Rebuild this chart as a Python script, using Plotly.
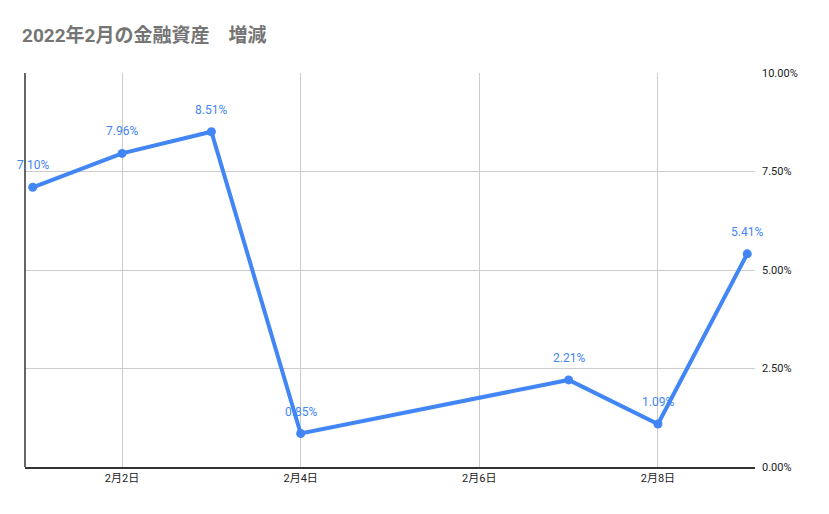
import plotly.graph_objects as go

# Data
dates = ["2022-02-01", "2022-02-02", "2022-02-03", "2022-02-04",
         "2022-02-07", "2022-02-08", "2022-02-09"]
values = [0.0710, 0.0796, 0.0851, 0.0085, 0.0221, 0.0109, 0.0541]
labels = ["7.10%", "7.96%", "8.51%", "0.85%", "2.21%", "1.09%", "5.41%"]

tick_dates = ["2022-02-02", "2022-02-04", "2022-02-06", "2022-02-08"]
tick_text = ["2月2日", "2月4日", "2月6日", "2月8日"]

title = "2022年2月の金融資産　増減"

FONT = "Roboto, 'Noto Sans CJK JP', Arial, sans-serif"
BLUE = "#4285F4"

fig = go.Figure()
fig.add_trace(go.Scatter(
    x=dates, y=values, mode="lines+markers",
    line=dict(color=BLUE, width=4),
    marker=dict(color=BLUE, size=9),
    cliponaxis=False, showlegend=False,
))

# data labels above each point
for d, v, t in zip(dates, values, labels):
    fig.add_annotation(x=d, y=v, text=t, showarrow=False,
                       yshift=22, font=dict(color=BLUE, size=12, family=FONT))

# left border line of the plot area
fig.add_shape(type="line", xref="paper", yref="paper",
              x0=0, x1=0, y0=0, y1=1,
              line=dict(color="#333333", width=1.5))

fig.update_layout(
    width=829, height=514,
    margin=dict(l=17, r=82, t=65, b=55),
    paper_bgcolor="white", plot_bgcolor="white",
    title=dict(text="<b>" + title + "</b>", x=0.0169, xref="container", xanchor="left",
               y=0.959, yref="container",
               font=dict(family=FONT, size=19, color="#757575")),
    font=dict(family=FONT, size=11, color="#222222"),
    xaxis=dict(
        type="date",
        range=["2022-01-31 21:55", "2022-02-09 02:05"],
        tickvals=tick_dates, ticktext=tick_text,
        showgrid=True, gridcolor="#cccccc", gridwidth=1,
        showline=True, linecolor="#333333", linewidth=1.5,
        ticks="", zeroline=False,
        tickfont=dict(size=11, color="#222222"),
    ),
    yaxis=dict(
        side="right", range=[0, 0.10],
        tickvals=[0, 0.025, 0.05, 0.075, 0.10],
        tickformat=".2%",
        showgrid=True, gridcolor="#cccccc", gridwidth=1,
        showline=False, zeroline=False, ticks="",
        ticklabelstandoff=6,
        tickfont=dict(size=11, color="#222222"),
    ),
)

fig.write_html("out.html")
